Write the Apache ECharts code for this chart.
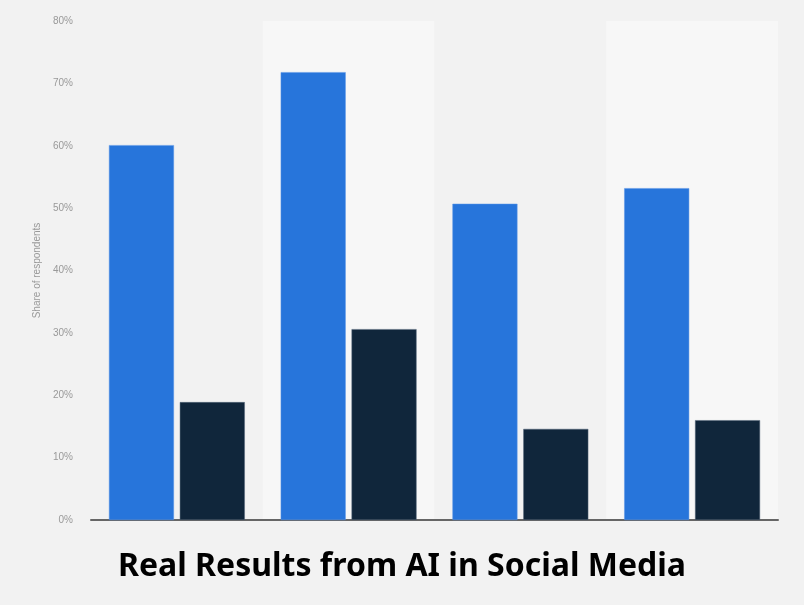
<!DOCTYPE html>
<html>
<head>
<meta charset="utf-8">
<script src="https://cdn.jsdelivr.net/npm/echarts@6/dist/echarts.min.js"></script>
<style>
html,body{margin:0;padding:0;background:#f2f2f2;}
#c{width:804px;height:605px;}
</style>
</head>
<body>
<div id="c"></div>
<script>
const categories = ['A', 'B', 'C', 'D'];
const seriesBlue = [60.1, 71.8, 50.7, 53.2];
const seriesDark = [18.9, 30.6, 14.6, 16.0];
const yTicks = [0, 10, 20, 30, 40, 50, 60, 70, 80];
const titleText = 'Real Results from AI in Social Media';
const yAxisName = 'Share of respondents';

const chart = echarts.init(document.getElementById('c'));
chart.setOption({
  backgroundColor: '#f2f2f2',
  animation: false,
  title: {
    text: titleText,
    left: 'center',
    top: 546,
    textStyle: {fontFamily: 'Noto Sans', fontWeight: 'bold', fontSize: 32, color: '#000'}
  },
  grid: {left: 91, right: 26, top: 21, bottom: 85},
  xAxis: {
    type: 'category',
    data: categories,
    axisLine: {lineStyle: {color: '#666', width: 2}},
    axisTick: {show: false},
    axisLabel: {show: false},
    splitArea: {show: true, areaStyle: {color: ['#f2f2f2', '#f7f7f7']}}
  },
  yAxis: {
    type: 'value',
    min: yTicks[0],
    max: yTicks[yTicks.length - 1],
    interval: 10,
    name: yAxisName,
    nameLocation: 'middle',
    nameGap: 48,
    nameTextStyle: {fontFamily: 'Liberation Sans', fontSize: 10, color: '#999'},
    axisLine: {show: false},
    axisTick: {show: false},
    axisLabel: {formatter: '{value}%', fontFamily: 'Liberation Sans', fontSize: 10, color: '#999', margin: 18},
    splitLine: {lineStyle: {type: 'dotted', color: '#d8d8d8', width: 1}}
  },
  series: [
    {type: 'bar', data: seriesBlue, barWidth: 65, barGap: '9%',
     itemStyle: {color: '#2775db', borderColor: '#5a95e6', borderWidth: 0.5}},
    {type: 'bar', data: seriesDark, barWidth: 65,
     itemStyle: {color: '#10263b', borderColor: '#55667a', borderWidth: 0.5}}
  ]
});
</script>
</body>
</html>
